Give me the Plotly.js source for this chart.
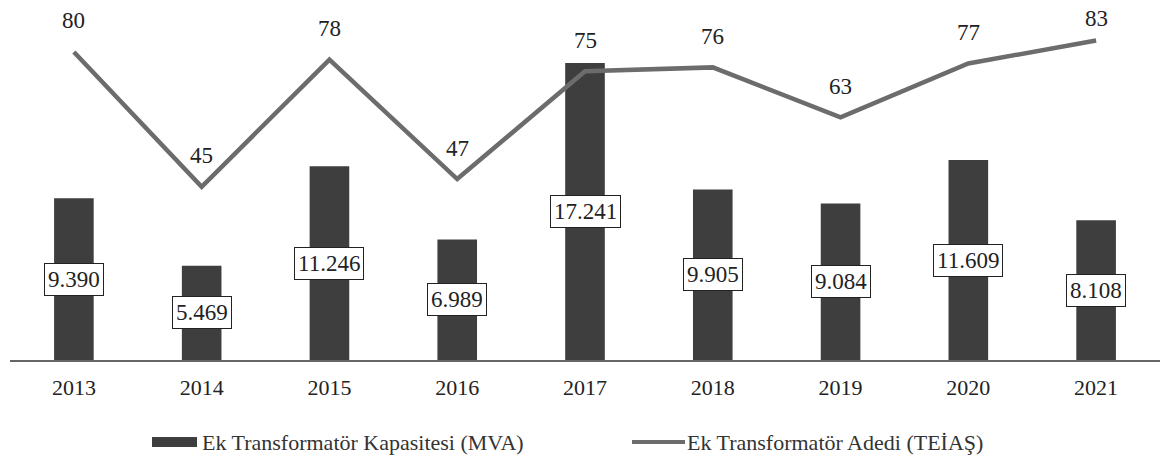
<!DOCTYPE html>
<html><head><meta charset="utf-8">
<script src="https://cdn.plot.ly/plotly-3.0.1.min.js"></script>
<style>html,body{margin:0;padding:0;background:#fff}</style>
</head><body>
<div id="chart" style="width:1171px;height:463px"></div>
<script>
const years = ['2013','2014','2015','2016','2017','2018','2019','2020','2021'];
const capacityMVA = [9390, 5469, 11246, 6989, 17241, 9905, 9084, 11609, 8108];
const transformerCount = [80, 45, 78, 47, 75, 76, 63, 77, 83];
const seriesNames = ['Ek Transformatör Kapasitesi (MVA)', 'Ek Transformatör Adedi (TEİAŞ)'];

function fmt(v){ return String(v).replace(/\B(?=(\d{3})+(?!\d))/g, '.'); }
const F = 'Liberation Serif, Times New Roman, serif';
const BAR = '#3e3e3e', LINE = '#6c6c6c';

const W = 1171, H = 463, M = {l:10, r:11, t:0, b:103};
const PW = W - M.l - M.r, PH = H - M.t - M.b;
const Y2MAX = 93.5;
const px = x => (x - M.l) / PW;
const py = y => 1 - (y - M.t) / PH;

const traces = [
  {type:'bar', x:years, y:capacityMVA, name:seriesNames[0],
   marker:{color:BAR}, width:0.31, hoverinfo:'none', showlegend:false},
  {type:'scatter', mode:'lines', x:years, y:transformerCount, yaxis:'y2',
   name:seriesNames[1], line:{color:LINE, width:4.5}, hoverinfo:'none', showlegend:false}
];

const annotations = [];
years.forEach((yr,i)=>{
  annotations.push({x:i, y:capacityMVA[i]/2, xref:'x', yref:'y', text:fmt(capacityMVA[i]),
    showarrow:false, bgcolor:'#fff', bordercolor:'#222', borderwidth:1, borderpad:3,
    font:{family:F, size:23, color:'#222'}});
  const ptY = M.t + PH * (1 - transformerCount[i] / Y2MAX);
  const shift = Math.min(31, ptY - 18);
  annotations.push({x:i, y:transformerCount[i], xref:'x', yref:'y2', text:String(transformerCount[i]),
    showarrow:false, yshift:shift, font:{family:F, size:23, color:'#222'}});
});

const legY = 442;
annotations.push({xref:'paper', yref:'paper', x:px(200), y:py(legY), xanchor:'left', yanchor:'middle',
  text:seriesNames[0], showarrow:false, font:{family:F, size:22, color:'#333'}});
annotations.push({xref:'paper', yref:'paper', x:px(685), y:py(legY), xanchor:'left', yanchor:'middle',
  text:seriesNames[1], showarrow:false, font:{family:F, size:22, color:'#333'}});
const shapes = [
  {type:'rect', xref:'paper', yref:'paper', x0:px(152), x1:px(197), y0:py(legY+5), y1:py(legY-5),
   fillcolor:BAR, line:{width:0}},
  {type:'line', xref:'paper', yref:'paper', x0:px(632), x1:px(685), y0:py(legY), y1:py(legY),
   line:{color:LINE, width:4}}
];

const hiddenAx = {showticklabels:false, showgrid:false, zeroline:false, showline:false, ticks:''};
const layout = {
  width:W, height:H, margin:M,
  paper_bgcolor:'#fff', plot_bgcolor:'#fff',
  font:{family:F, size:22, color:'#222'},
  showlegend:false,
  xaxis:{type:'category', showline:true, linecolor:'#666', linewidth:2, ticks:'',
    tickfont:{family:F, size:22, color:'#222'}, ticklabelstandoff:7, showgrid:false, zeroline:false,
    range:[-0.5, 8.5]},
  yaxis:Object.assign({range:[0, 20900]}, hiddenAx),
  yaxis2:Object.assign({range:[0, Y2MAX], overlaying:'y', side:'right'}, hiddenAx),
  annotations:annotations,
  shapes:shapes
};
Plotly.newPlot('chart', traces, layout, {displayModeBar:false, staticPlot:true});
</script>
</body></html>
